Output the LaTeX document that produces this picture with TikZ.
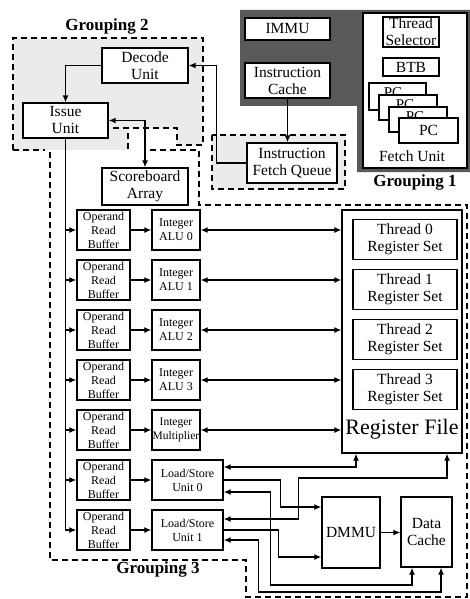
\documentclass[tikz,border=0pt]{standalone}
\usepackage{fontspec}
\setmainfont{Liberation Serif}
\usetikzlibrary{arrows.meta,calc}
\begin{document}
\begin{tikzpicture}[x=1pt,y=-1pt,
  box/.style={draw,line width=1.4pt,fill=white,inner sep=0pt,align=center,font=\fontsize{15.5}{17}\selectfont},
  sbox/.style={box,font=\fontsize{12}{14}\selectfont},
  arr/.style={line width=1.2pt,-{Latex[length=7pt,width=6pt]}},
  arr2/.style={line width=1.2pt,{Latex[length=7pt,width=6pt]}-{Latex[length=7pt,width=6pt]}},
  ln/.style={line width=1.2pt},
  grp/.style={line width=1.5pt,dash pattern=on 6pt off 4pt},
  glabel/.style={font=\fontsize{17}{20}\selectfont\bfseries}]
\useasboundingbox (0,0) rectangle (470,599);
% Grouping 2 shading
\fill[gray!16] (13,38) -- (203,38) -- (203,145) -- (177,145) -- (177,128) -- (128,128) -- (128,150) -- (13,150) -- cycle;
\fill[gray!16] (212,135) rectangle (345,189);
% Grouping 1 dark area
\fill[black!65] (240,10) -- (470,10) -- (470,172) -- (357,172) -- (357,106) -- (240,106) -- cycle;
% dashed outlines
\draw[grp] (13,150) -- (13,38) -- (203,38) -- (203,145) -- (177,145) -- (177,128) -- (112,128);
\draw[grp] (13,150) -- (45,150);
\draw[grp] (212,135) rectangle (345,189);
\draw[grp] (50,152) -- (50,560) -- (246,560) -- (246,597) -- (467,597) -- (467,205) -- (199,205) -- (199,150) -- (147,150);
\draw[grp] (128,133) -- (128,150);
% labels
\node[glabel] (g2) at (107,26) {Grouping 2};
\node[glabel] (g1) at (415,182) {Grouping 1};
\node[glabel] (g3) at (158,569) {Grouping 3};
% Grouping 1 boxes
\node[box,minimum width=85pt,minimum height=22pt] (immu) at (287.5,29) {IMMU};
\node[box,minimum width=85pt,minimum height=35pt] (icache) at (287.5,80.5) {Instruction\\Cache};
\node[box,minimum width=104pt,minimum height=155pt] (fetch) at (415,90.5) {};
\node[box,minimum width=56pt,minimum height=30pt] (tsel) at (411,32) {Thread\\Selector};
\node[box,minimum width=56pt,minimum height=18pt] (btb) at (411,67) {BTB};
\node[box,minimum width=57pt,minimum height=27pt] (pc1) at (397.5,96.5) {};
\node[font=\fontsize{15}{16}\selectfont] (pct1) at (393,93) {PC};
\node[box,minimum width=58pt,minimum height=25pt] (pc2) at (408,107.5) {};
\node[font=\fontsize{15}{16}\selectfont] (pct2) at (405,105) {PC};
\node[box,minimum width=58pt,minimum height=25pt] (pc3) at (418,119.5) {};
\node[font=\fontsize{15}{16}\selectfont] (pct3) at (415,117) {PC};
\node[box,minimum width=59pt,minimum height=25pt] (pc4) at (428.5,130.5) {PC};
\node[font=\fontsize{15.5}{17}\selectfont] (fetchlab) at (412,156) {Fetch Unit};
% Grouping 2 boxes
\node[box,minimum width=86pt,minimum height=35pt] (decode) at (145,65.5) {Decode\\Unit};
\node[box,minimum width=85pt,minimum height=35pt] (issue) at (65.5,120.5) {Issue\\Unit};
\node[box,minimum width=86pt,minimum height=37pt] (score) at (145,186.5) {Scoreboard\\Array};
\node[box,minimum width=90pt,minimum height=40pt] (ifq) at (292,163) {Instruction\\Fetch Queue};
% execution rows
\foreach \i in {0,...,6}
  \node[sbox,minimum width=53pt,minimum height=40pt] (orb\i) at (103.5,230+50*\i) {Operand\\Read\\Buffer};
\foreach \i in {0,...,3}
  \node[sbox,minimum width=48pt,minimum height=40pt] (alu\i) at (176,230+50*\i) {Integer\\ALU \i};
\node[sbox,minimum width=48pt,minimum height=40pt,font=\fontsize{11.5}{14}\selectfont] (alu4) at (176,430) {Integer\\Multiplier};
\node[sbox,minimum width=71pt,minimum height=40pt] (lsu0) at (187.5,480) {Load/Store\\Unit 0};
\node[sbox,minimum width=71pt,minimum height=40pt] (lsu1) at (187.5,530) {Load/Store\\Unit 1};
% register file
\node[box,minimum width=120pt,minimum height=243pt] (rf) at (402,331.5) {};
\foreach \i in {0,...,3}
  \node[box,minimum width=104pt,minimum height=40pt] (ts\i) at (405,239.5+50*\i) {Thread \i\\Register Set};
\node[font=\fontsize{22}{24}\selectfont] (rflab) at (402,429) {Register File};
\node[box,minimum width=58pt,minimum height=71pt] (dmmu) at (351,532.5) {DMMU};
\node[box,minimum width=51pt,minimum height=70pt] (dc) at (426.5,532) {Data\\Cache};
% connectors
\draw[arr] (icache.south) -- (icache.south |- ifq.north);
\draw[arr] (ifq.west) -- ++(-30,0) |- (decode.east);
\draw[arr] (decode.west) -| (issue.north);
\draw[arr2] (issue.east) -| (score.north);
\draw[arr] (issue.south) |- (orb6.west);
\foreach \i in {0,...,5}
  \draw[arr] (issue.south |- orb\i.west) -- (orb\i.west);
\foreach \i in {0,...,4}
  \draw[arr] (orb\i.east) -- (alu\i.west);
\draw[arr] (orb5.east) -- (lsu0.west);
\draw[arr] (orb6.east) -- (lsu1.west);
\foreach \i in {0,...,4}
  \draw[arr2] (alu\i.east) -- (alu\i.east -| rf.west);
% load/store wiring
\draw[arr2] ([yshift=13pt]lsu0.east) -| ([xshift=-46pt]rf.south);
\draw[arr] (lsu0.east) -- ++(57,0) |- ([yshift=25.5pt]dmmu.west);
\draw[arr2] ([yshift=-12pt]lsu0.east) -- ++(47,0) -- ++(0,93) -| ([xshift=-14.5pt]dc.south);
\draw[arr2] ([yshift=11pt]lsu1.east) -- ++(75,0) -- ++(0,-41) -| ([xshift=45pt]rf.south);
\draw[arr] (lsu1.east) -- ++(55,0) |- ([yshift=-24.5pt]dmmu.west);
\draw[arr2] ([yshift=-10pt]lsu1.east) -- ++(35,0) -- ++(0,52) -| ([xshift=14.5pt]dc.south);
\draw[arr] (dmmu.east) -- (dmmu.east -| dc.west);
\end{tikzpicture}
\end{document}
